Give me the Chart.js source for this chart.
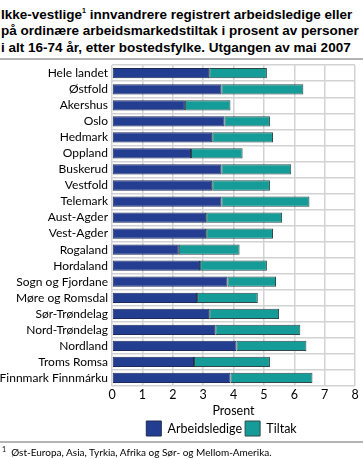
<!DOCTYPE html>
<html>
<head>
<meta charset="utf-8">
<script src="https://cdn.jsdelivr.net/npm/chart.js"></script>
<style>
body{margin:0;background:#fff;width:363px;height:459px;overflow:hidden;font-family:Lato,sans-serif;position:relative}
#title{position:absolute;left:1px;top:3px;font-family:"Liberation Sans",Arial,sans-serif;font-weight:bold;font-size:13.5px;line-height:16.5px;color:#000;white-space:nowrap}
.rule{position:absolute;left:0;width:363px;height:2px;background:#b4b4b4}
#wrap{position:absolute;left:0;top:54px;width:363px;height:392px}
#note{position:absolute;left:2px;top:445px;font-size:10px;color:#000;white-space:nowrap}
</style>
</head>
<body>
<div id="title">Ikke-vestlige<sup style="font-size:7px">1</sup> innvandrere registrert arbeidsledige eller<br>på ordinære arbeidsmarkedstiltak i prosent av personer<br>i alt 16-74 år, etter bostedsfylke. Utgangen av mai 2007</div>
<div id="wrap"><canvas id="chart"></canvas></div>
<div class="rule" style="top:58px"></div>
<div class="rule" style="top:441px"></div>
<div id="note"><sup style="font-size:7px">1</sup>&nbsp; Øst-Europa, Asia, Tyrkia, Afrika og Sør- og Mellom-Amerika.</div>
<script>

/* DATA */

const fylker = ["Hele landet","Østfold","Akershus","Oslo","Hedmark","Oppland","Buskerud","Vestfold","Telemark","Aust-Agder","Vest-Agder","Rogaland","Hordaland","Sogn og Fjordane","Møre og Romsdal","Sør-Trøndelag","Nord-Trøndelag","Nordland","Troms Romsa","Finnmark Finnmárku"]

const arbeidsledige = [3.2,3.6,2.4,3.7,3.3,2.6,3.6,3.3,3.6,3.1,3.1,2.2,2.9,3.8,2.8,3.2,3.4,4.1,2.7,3.9]

const tiltak = [1.9,2.7,1.5,1.5,2.0,1.7,2.3,1.9,2.9,2.5,2.2,2.0,2.2,1.6,2.0,2.3,2.8,2.3,2.5,2.7]

const xTicks = [0,1,2,3,4,5,6,7,8]

Chart.defaults.font.family = "Lato, sans-serif"
Chart.defaults.color = "#000"

/* legend centred under the plot, like the original */
const legendUnderPlot = {
id:"legendUnderPlot",
afterLayout(chart){
const l = chart.legend
l.left = chart.chartArea.left - 12
l.right = chart.chartArea.right - 12
}
}

const chart = new Chart(

document.getElementById("chart"),

{

type:"bar",

plugins:[legendUnderPlot],

data:{

labels:fylker,

datasets:[

{label:"Arbeidsledige",data:arbeidsledige,backgroundColor:"#233d91",borderColor:"#1e2a55",borderWidth:1,borderSkipped:false},

{label:"Tiltak",data:tiltak,backgroundColor:"#169c98",borderColor:"#2d4a48",borderWidth:1,borderSkipped:false}

]

},

options:{

indexAxis:"y",
animation:false,
responsive:true,
maintainAspectRatio:false,
layout:{padding:{top:4,right:8,left:0,bottom:0}},

scales:{

x:{
stacked:true,
min:0,max:8,
afterBuildTicks:s=>{s.ticks = xTicks.map(v=>({value:v}))},
grid:{color:"#d2d2d2",lineWidth:1.5,drawTicks:false},
border:{display:false},
ticks:{font:{size:12.5},padding:1},
title:{display:true,text:"Prosent",font:{size:12.5},padding:{top:0,bottom:0}}
},

y:{
stacked:true,
afterFit:s=>{s.width = 112},
grid:{color:"#d2d2d2",lineWidth:1.5,drawTicks:false,offset:true},
border:{display:false},
ticks:{font:{size:12},padding:4,autoSkip:false}
}

},

datasets:{bar:{categoryPercentage:1,barPercentage:0.64}},

plugins:{
legend:{
position:"bottom",
labels:{boxWidth:15,boxHeight:15,font:{size:12.5},padding:3}
},
tooltip:{enabled:false}
}

}

}

)

</script>
</body>
</html>
